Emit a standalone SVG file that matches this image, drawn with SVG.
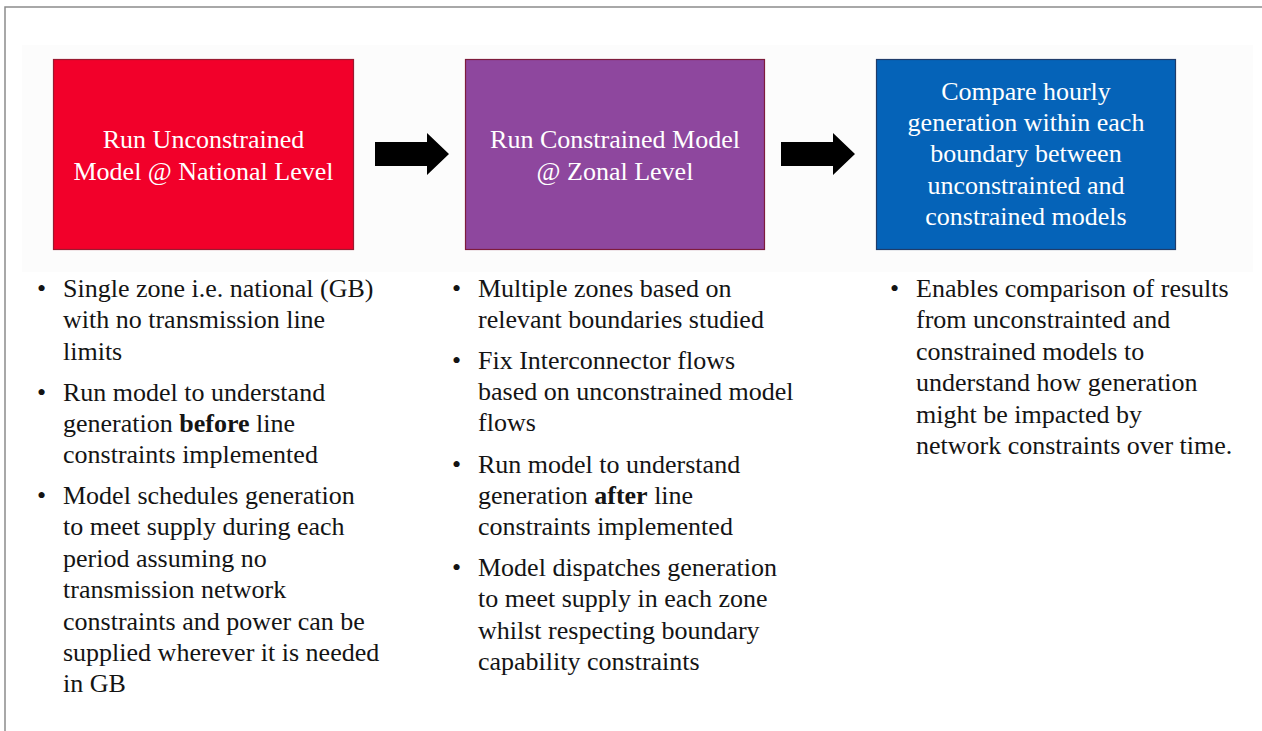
<svg xmlns="http://www.w3.org/2000/svg" width="1262" height="731" viewBox="0 0 1262 731">
  <style>
    text { font-family: 'Liberation Serif', 'Times New Roman', Times, 'DejaVu Serif', serif; }
    .box-label { font-size: 26px; fill: #ffffff; text-anchor: middle; }
    .body { font-size: 26px; fill: #141414; }
    .bullet { font-size: 26px; fill: #141414; }
    .frame { stroke: #8c8c8c; stroke-width: 1.5; fill: none; }
    .arrow { fill: #000000; }
  </style>
  <defs>
    <path id="block-arrow" d="M0,-12 L52,-12 L52,-21 L74,0 L52,21 L52,12 L0,12 Z"/>
  </defs>

  <!-- page -->
  <rect x="0" y="0" width="1262" height="731" fill="#ffffff"/>
  <path class="frame" d="M5,731 L5,7 L1262,7"/>
  <rect x="22" y="45" width="1231" height="227" fill="#fcfcfc"/>

  <!-- step 1 -->
  <g id="node-unconstrained" font-family="Liberation Serif, DejaVu Serif, serif">
    <rect x="53.5" y="59.5" width="300" height="190" fill="#f2002a" stroke="#9a1a30" stroke-width="1.2"/>
    <text class="box-label" x="203.5" y="148">Run Unconstrained</text>
    <text class="box-label" x="203.5" y="180">Model @ National Level</text>
  </g>

  <!-- step 2 -->
  <g id="node-constrained">
    <rect x="465.5" y="59.5" width="299" height="190" fill="#8e479e" stroke="#7d1c3c" stroke-width="1.2"/>
    <text class="box-label" x="615" y="148">Run Constrained Model</text>
    <text class="box-label" x="615" y="180">@ Zonal Level</text>
  </g>

  <!-- step 3 -->
  <g id="node-compare">
    <rect x="876.5" y="59.5" width="299" height="190" fill="#0563b8" stroke="#1f3c6a" stroke-width="1.2"/>
    <text class="box-label" x="1026" y="100">Compare hourly</text>
    <text class="box-label" x="1026" y="131">generation within each</text>
    <text class="box-label" x="1026" y="162">boundary between</text>
    <text class="box-label" x="1026" y="194">unconstrainted and</text>
    <text class="box-label" x="1026" y="225">constrained models</text>
  </g>

  <!-- connectors -->
  <g id="connectors">
    <use href="#block-arrow" class="arrow" transform="translate(375,154)"/>
    <use href="#block-arrow" class="arrow" transform="translate(781,154)"/>
  </g>

  <!-- notes under step 1 -->
  <g id="notes-unconstrained">
    <text class="bullet" x="37" y="297">•</text>
    <text class="body" x="63" y="297">Single zone i.e. national (GB)</text>
    <text class="body" x="63" y="328">with no transmission line</text>
    <text class="body" x="63" y="360">limits</text>
    <text class="bullet" x="37" y="401">•</text>
    <text class="body" x="63" y="401">Run model to understand</text>
    <text class="body" x="63" y="432">generation <tspan font-weight="bold">before</tspan> line</text>
    <text class="body" x="63" y="463">constraints implemented</text>
    <text class="bullet" x="37" y="504">•</text>
    <text class="body" x="63" y="504">Model schedules generation</text>
    <text class="body" x="63" y="535">to meet supply during each</text>
    <text class="body" x="63" y="567">period assuming  no</text>
    <text class="body" x="63" y="598">transmission network</text>
    <text class="body" x="63" y="630">constraints  and power can be</text>
    <text class="body" x="63" y="661">supplied wherever  it is needed</text>
    <text class="body" x="63" y="692">in GB</text>
  </g>

  <!-- notes under step 2 -->
  <g id="notes-constrained">
    <text class="bullet" x="452" y="297">•</text>
    <text class="body" x="478" y="297">Multiple zones based on</text>
    <text class="body" x="478" y="328">relevant  boundaries studied</text>
    <text class="bullet" x="452" y="369">•</text>
    <text class="body" x="478" y="369">Fix Interconnector flows</text>
    <text class="body" x="478" y="400">based on unconstrained model</text>
    <text class="body" x="478" y="431">flows</text>
    <text class="bullet" x="452" y="473">•</text>
    <text class="body" x="478" y="473">Run model to understand</text>
    <text class="body" x="478" y="504">generation <tspan font-weight="bold">after</tspan> line</text>
    <text class="body" x="478" y="535">constraints implemented</text>
    <text class="bullet" x="452" y="576">•</text>
    <text class="body" x="478" y="576">Model dispatches generation</text>
    <text class="body" x="478" y="607">to meet  supply in each zone</text>
    <text class="body" x="478" y="639">whilst respecting boundary</text>
    <text class="body" x="478" y="670">capability constraints</text>
  </g>

  <!-- notes under step 3 -->
  <g id="notes-compare">
    <text class="bullet" x="890" y="297">•</text>
    <text class="body" x="916" y="297">Enables comparison of results</text>
    <text class="body" x="916" y="328">from  unconstrainted and</text>
    <text class="body" x="916" y="360">constrained models to</text>
    <text class="body" x="916" y="391">understand how generation</text>
    <text class="body" x="916" y="423">might be impacted by</text>
    <text class="body" x="916" y="454">network constraints over time.</text>
  </g>
</svg>
